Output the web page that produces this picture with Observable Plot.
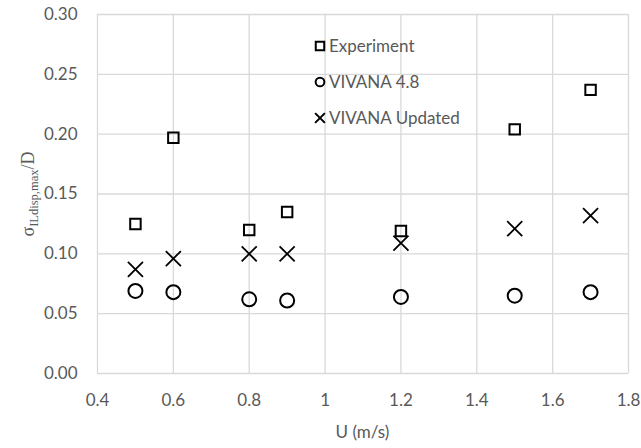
<!DOCTYPE html>
<html><head><meta charset="utf-8">
<script src="https://cdn.jsdelivr.net/npm/d3@7"></script>
<script src="https://cdn.jsdelivr.net/npm/@observablehq/plot@0.6"></script>
<style>body{margin:0;background:#fff}#chart{width:641px;height:448px}</style>
</head><body><div id="chart"></div>
<script>
const speeds = [0.5, 0.6, 0.8, 0.9, 1.2, 1.5, 1.7];
const experiment = [0.125, 0.197, 0.120, 0.135, 0.119, 0.204, 0.237];
const vivana48 = [0.069, 0.068, 0.062, 0.061, 0.064, 0.065, 0.068];
const vivanaUpdated = [0.087, 0.096, 0.100, 0.100, 0.109, 0.121, 0.132];
const seriesNames = ["Experiment", "VIVANA 4.8", "VIVANA Updated"];
const xTicks = [0.4, 0.6, 0.8, 1, 1.2, 1.4, 1.6, 1.8];
const yTicks = [0, 0.05, 0.10, 0.15, 0.20, 0.25, 0.30];
const xLabel = "U (m/s)";

const rows = (vals) => speeds.map((u, i) => ({u, v: vals[i]}));
const grid = "#d9d9d9", textCol = "#595959";

const chart = Plot.plot({
  width: 641, height: 448,
  marginLeft: 97, marginRight: 13, marginTop: 14, marginBottom: 75,
  style: {fontFamily: "Lato", fontSize: "17px", color: textCol, background: "white"},
  x: {domain: [0.4, 1.8]},
  y: {domain: [0, 0.3]},
  marks: [
    Plot.gridX(xTicks, {stroke: grid, strokeOpacity: 1, strokeWidth: 1.3}),
    Plot.gridY(yTicks, {stroke: grid, strokeOpacity: 1, strokeWidth: 1.3}),
    Plot.axisX(xTicks, {tickSize: 0, tickPadding: 20, tickFormat: d => String(d), label: null, fill: textCol}),
    Plot.axisY(yTicks, {tickSize: 0, tickPadding: 20, tickFormat: d3.format(".2f"), label: null, fill: textCol}),
    Plot.dot(rows(experiment), {x: "u", y: "v", symbol: "square", r: 5.9, stroke: "black", strokeWidth: 2, fill: "none"}),
    Plot.dot(rows(vivana48), {x: "u", y: "v", symbol: "circle", r: 7, stroke: "black", strokeWidth: 2, fill: "none"}),
    Plot.dot(rows(vivanaUpdated), {x: "u", y: "v", symbol: "times", r: 6.9, stroke: "black", strokeWidth: 1.8, fill: "none"})
  ]
});
document.getElementById("chart").appendChild(chart);

const svg = d3.select(chart);
const xs = chart.scale("x");
// x axis title
svg.append("text")
  .attr("x", xs.apply((0.4 + 1.8) / 2)).attr("y", 438)
  .attr("text-anchor", "middle").attr("fill", textCol)
  .style("font-family", "Lato").style("font-size", "17px")
  .text(xLabel);

// y axis title with subscript
const yt = svg.append("text")
  .attr("transform", "translate(34,194) rotate(-90)")
  .attr("text-anchor", "middle").attr("fill", textCol)
  .style("font-family", "'Liberation Serif', serif").style("font-size", "18px");
yt.append("tspan").text("σ");
yt.append("tspan").attr("dy", 4).style("font-size", "12.5px").text("ILdisp,max");
yt.append("tspan").attr("dy", -4).text("/D");

// legend
const legendSyms = [d3.symbolSquare, d3.symbolCircle, d3.symbolTimes];
const legendSizes = [72, 60, 64];
const lg = svg.append("g");
seriesNames.forEach((name, i) => {
  const y = 46 + i * 36;
  lg.append("path")
    .attr("d", d3.symbol(legendSyms[i], legendSizes[i])())
    .attr("transform", `translate(320,${y})`)
    .attr("fill", "none").attr("stroke", "black").attr("stroke-width", 2);
  lg.append("text").attr("x", 329).attr("y", y).attr("dy", "0.35em")
    .attr("text-anchor", "start")
    .attr("fill", textCol).style("font-family", "Lato").style("font-size", "17px")
    .text(name);
});
</script></body></html>
